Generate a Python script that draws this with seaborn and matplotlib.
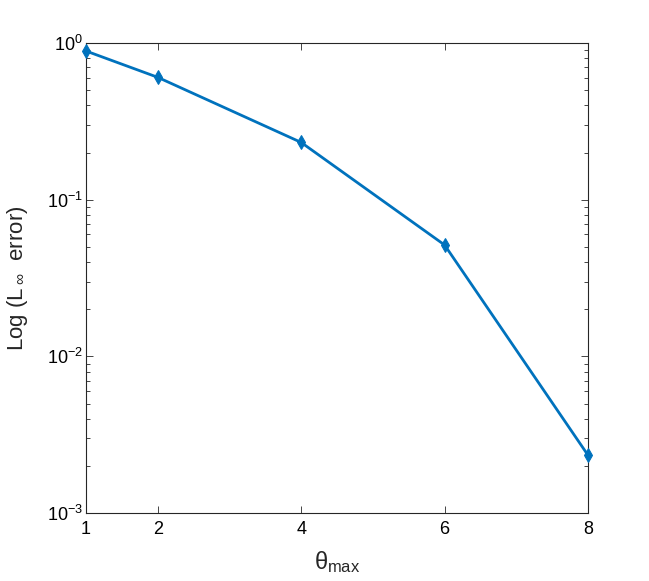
import pandas as pd
import seaborn as sns
import matplotlib.pyplot as plt
from matplotlib.ticker import LogLocator, NullFormatter

# values
theta_max = [1, 2, 4, 6, 8]
linf_error = [0.889, 0.604, 0.232, 0.0514, 0.00234]

df = pd.DataFrame({"theta": theta_max, "err": linf_error})

sns.set_theme(style="ticks")
plt.rcParams["font.family"] = ["Liberation Sans", "DejaVu Sans"]
plt.rcParams["mathtext.fontset"] = "custom"
plt.rcParams["mathtext.rm"] = "Liberation Sans"
plt.rcParams["mathtext.it"] = "Liberation Sans"
plt.rcParams["mathtext.bf"] = "Liberation Sans"

fig = plt.figure(figsize=(6.49, 5.81), dpi=100)
ax = fig.add_axes([0.1325, 0.117, 0.7735, 0.809])

sns.lineplot(
    data=df,
    x="theta",
    y="err",
    ax=ax,
    color="#0072BD",
    linewidth=2,
    marker="d",
    markersize=7,
    markeredgecolor="#0072BD",
    clip_on=False,
    zorder=5,
)

ax.set_yscale("log")
ax.set_xlim(1, 8)
ax.set_ylim(1e-3, 1)
ax.set_xticks(theta_max)
ax.set_xticklabels([str(t) for t in theta_max])
ax.yaxis.set_major_locator(LogLocator(base=10, numticks=10))
ax.yaxis.set_minor_locator(LogLocator(base=10, subs=range(2, 10), numticks=20))
ax.yaxis.set_minor_formatter(NullFormatter())

for s in ax.spines.values():
    s.set_visible(True)
    s.set_color("#262626")
    s.set_linewidth(0.8)

ax.tick_params(axis="both", which="both", direction="in", top=True, right=True,
               colors="#262626", labelcolor="black", labelsize=13, width=0.6)
ax.tick_params(which="major", length=5)
ax.tick_params(which="minor", length=3)
ax.tick_params(axis="x", pad=6)
ax.tick_params(axis="y", pad=2)

ax.set_xlabel(r"$\theta_{\mathrm{max}}$", fontsize=17, labelpad=8)
ax.set_ylabel(r"Log (L$\,_{\infty}$  error)", fontsize=16, labelpad=12)

fig.savefig("out.png", dpi=100)
